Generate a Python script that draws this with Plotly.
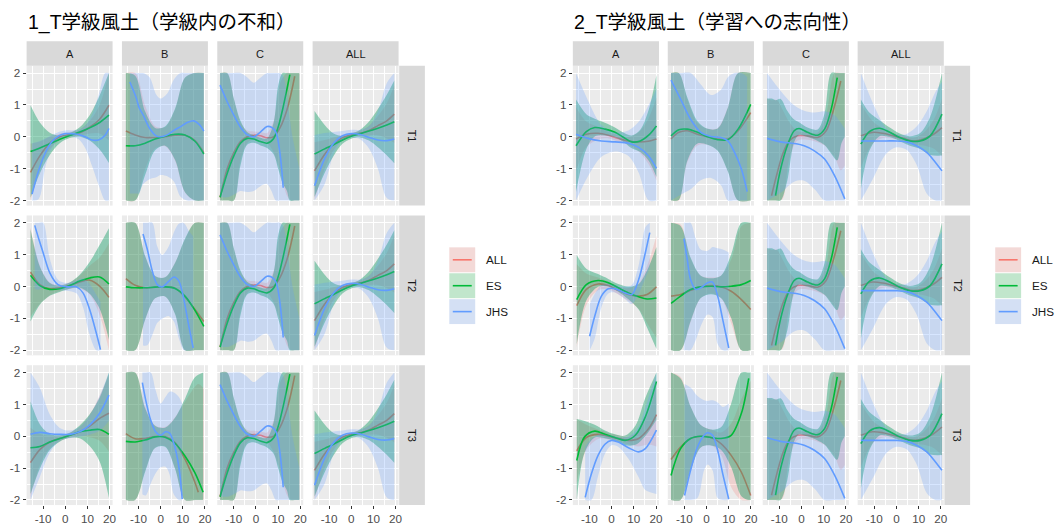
import numpy as np
import plotly.graph_objects as go

# ---------------------------------------------------------------- data
GROUPS = ["ALL", "ES", "JHS"]
COLS = ["A", "B", "C", "ALL"]
ROWS = ["T1", "T2", "T3"]
TITLES = ["1_T学級風土（学級内の不和）", "2_T学級風土（学習への志向性）"]
X_TICKS = [-10, 0, 10, 20]
X_TICK_TEXT = ["-10", "0", "10", "20"]
X_MINOR = [-15, -5, 5, 15]
Y_TICKS = [-2, -1, 0, 1, 2]
Y_TICK_TEXT = ["-2", "-1", "0", "1", "2"]
Y_MINOR = [-1.5, -0.5, 0.5, 1.5]
Y_LIMIT = 2.0

# each group: (x, fitted value, half width of the confidence band)
# --- 1_T 学級内の不和
P1_A_T1 = {
    "ALL": ([-15.7, -11.5, -7, -2.5, 2, 6.5, 11, 15.5, 19.7],
            [-1.12, -0.6, -0.2, 0.0, 0.07, 0.13, 0.3, 0.55, 0.99],
            [0.9, 0.45, 0.2, 0.1, 0.08, 0.1, 0.2, 0.45, 1.1]),
    "ES": ([-15.7, -11.5, -7, -2.5, 2, 6.5, 11, 15.5, 19.7],
           [-0.46, -0.35, -0.22, -0.08, 0.04, 0.15, 0.28, 0.45, 0.68],
           [1.45, 0.8, 0.35, 0.12, 0.08, 0.15, 0.4, 0.85, 1.5]),
    "JHS": ([-15, -12, -9, -6, -3, 0, 3, 6, 9, 12, 15, 18, 19.7],
            [-1.8, -1.05, -0.5, -0.15, 0.03, 0.1, 0.1, 0.07, 0.0, -0.1, -0.1, 0.05, 0.26],
            [1.6, 0.9, 0.45, 0.2, 0.12, 0.1, 0.1, 0.15, 0.35, 0.8, 1.4, 2.2, 2.6]),
}
P1_B_T1 = {
    "ALL": ([-15.7, -11.5, -7, -2.5, 2, 6.5, 11, 15.5, 19.5],
            [0.18, 0.06, -0.02, -0.02, 0.0, 0.05, 0.05, -0.12, -0.5],
            [3.2, 2.2, 1.0, 0.35, 0.3, 0.8, 1.8, 3.0, 3.8]),
    "ES": ([-15.7, -11.5, -7, -2.5, 2, 6.5, 11, 15.5, 19.5],
           [-0.28, -0.28, -0.2, -0.07, 0.02, 0.08, 0.06, -0.14, -0.54],
           [3.2, 2.2, 1.0, 0.35, 0.3, 0.8, 1.8, 3.0, 3.8]),
    "JHS": ([-13.9, -11, -9.75, -8, -5, -2, 0, 3, 6, 9, 12, 15, 17.5, 19.5],
            [1.72, 1.22, 0.92, 0.7, 0.27, 0.03, 0.0, 0.06, 0.2, 0.32, 0.45, 0.5, 0.38, 0.18],
            [3.5, 3, 2.7, 2.2, 1.6, 1.3, 1.2, 1.3, 1.6, 2.2, 2.8, 3.5, 4, 4.5]),
}
P1_A_T2 = {
    "ALL": ([-15.7, -11.5, -7, -2.5, 2, 6.5, 11, 15.5, 19.7],
            [0.45, 0.06, -0.07, -0.04, 0.03, 0.14, 0.2, 0.01, -0.34],
            [1.4, 0.6, 0.2, 0.1, 0.1, 0.2, 0.45, 0.9, 1.7]),
    "ES": ([-15.7, -11.5, -7, -2.5, 2, 6.5, 11, 15.5, 19.7],
           [0.35, 0.03, -0.09, -0.07, 0.03, 0.17, 0.27, 0.3, 0.08],
           [1.45, 0.6, 0.2, 0.1, 0.1, 0.2, 0.5, 1.0, 1.75]),
    "JHS": ([-13.8, -12, -10, -7, -3.3, 0.5, 5, 8, 11, 14, 15.9],
            [1.92, 1.5, 1.06, 0.43, 0.06, -0.01, -0.01, -0.2, -0.72, -1.46, -1.98],
            [2.0, 1.6, 1.1, 0.45, 0.15, 0.12, 0.2, 0.45, 0.8, 1.2, 1.5]),
}
P1_B_T2 = {
    "ALL": ([-15.7, -11.5, -7, -2.5, 2, 6.5, 11, 15.5, 19.5],
            [0.25, 0.04, -0.04, -0.02, -0.01, -0.05, -0.33, -0.72, -1.1],
            [3.2, 2.2, 1.0, 0.35, 0.3, 0.8, 1.8, 3.0, 3.8]),
    "ES": ([-15.7, -11.5, -7, -2.5, 2, 6.5, 11, 15.5, 19.5],
           [-0.01, -0.04, -0.04, -0.02, -0.01, -0.06, -0.3, -0.75, -1.25],
           [3.2, 2.2, 1.0, 0.35, 0.3, 0.8, 1.8, 3.0, 3.8]),
    "JHS": ([-7.95, -6, -3.75, -1.5, 0.75, 3.75, 6, 8.25, 10.5, 12.75, 14.7],
            [1.65, 1.16, 0.48, 0.06, -0.01, 0.17, 0.3, 0.17, -0.41, -1.25, -1.93],
            [3.5, 3, 2, 1.2, 1.0, 1.1, 1.4, 1.8, 2.4, 3, 3.5]),
}
P1_A_T3 = {
    "ALL": ([-15.7, -11.5, -7, -2.5, 2, 6.5, 11, 15.5, 19.7],
            [-0.83, -0.42, -0.18, -0.07, 0.03, 0.14, 0.32, 0.56, 0.72],
            [1.1, 0.5, 0.2, 0.08, 0.08, 0.15, 0.35, 0.7, 1.2]),
    "ES": ([-15.7, -11.5, -7, -2.5, 2, 6.5, 11, 15.5, 19.7],
           [-0.36, -0.32, -0.18, -0.07, 0.03, 0.14, 0.19, 0.21, 0.06],
           [1.45, 0.7, 0.25, 0.1, 0.08, 0.2, 0.5, 1.0, 2.0]),
    "JHS": ([-15.7, -11.5, -7, -2.5, 2, 6.5, 11, 15.5, 19.7],
            [0.06, 0.12, 0.08, 0.06, 0.06, 0.14, 0.35, 0.72, 1.29],
            [2.3, 1.4, 0.6, 0.2, 0.12, 0.15, 0.3, 0.55, 0.8]),
}
P1_B_T3 = {
    "ALL": ([-15.7, -11.5, -7, -2.5, 2, 6.5, 11, 15.5, 17, 19.5],
            [0.08, -0.08, -0.07, -0.01, -0.01, -0.2, -0.72, -1.45, -1.76, -2.3],
            [3.2, 2.2, 1.0, 0.35, 0.3, 0.8, 1.8, 3.0, 3.4, 3.8]),
    "ES": ([-15.7, -11.5, -7, -2.5, 2, 6.5, 11, 15.5, 19.2],
           [-0.16, -0.18, -0.12, -0.02, -0.03, -0.22, -0.62, -1.15, -1.76],
           [3.2, 2.2, 1.0, 0.35, 0.3, 0.8, 1.8, 3.0, 3.8]),
    "JHS": ([-8.25, -6.75, -4.5, -2.25, 0, 2.25, 4.05, 6, 8.25, 9.75],
            [1.68, 1.14, 0.51, 0.14, 0.03, 0.14, 0.1, -0.23, -0.97, -1.97],
            [3.5, 3, 2, 1.3, 1.0, 1.1, 1.3, 1.6, 2.2, 3]),
}
P1_C = {
    "ALL": ([-16.2, -13, -10, -7, -4, -1, 2, 5, 8, 11, 14, 16, 17.5, 19.6],
            [-1.9, -1.0, -0.5, -0.15, 0.0, 0.05, 0.03, -0.03, 0.0, 0.3, 0.85, 1.4, 1.9, 2.7],
            [4.0, 3.0, 1.7, 0.6, 0.2, 0.12, 0.12, 0.15, 0.5, 1.4, 2.7, 3.5, 4.2, 5.0]),
    "ES": ([-16.2, -13, -10, -7, -4, -1, 2, 5, 8, 10, 12, 14, 15.3, 17.5, 19.6],
           [-1.9, -1.15, -0.6, -0.2, -0.05, -0.07, -0.15, -0.2, -0.05, 0.3, 0.85, 1.5, 1.95, 3.0, 4.3],
           [4.2, 3.2, 1.8, 0.7, 0.2, 0.12, 0.12, 0.15, 0.5, 1.3, 2.3, 3.2, 4.0, 5.2, 6.5]),
    "JHS": ([-16.2, -13, -10, -7, -4, -1, 2, 5, 7, 9, 10.8, 12.3, 14.5, 16.5, 19.6],
            [1.62, 1.1, 0.68, 0.3, 0.07, 0.0, 0.15, 0.32, 0.3, 0.15, -0.5, -1.6, -3.5, -5.5, -8.5],
            [3.5, 3, 2.5, 2, 1.8, 1.7, 1.7, 1.8, 2, 2.4, 3, 3.5, 4.5, 5.5, 7.5]),
}
P1_ALL = {
    "ALL": ([-16.6, -12, -8, -4, 0, 4, 8, 12, 16, 19.4],
            [-1.07, -0.55, -0.22, -0.03, 0.06, 0.11, 0.2, 0.35, 0.5, 0.71],
            [0.9, 0.45, 0.2, 0.08, 0.06, 0.08, 0.15, 0.3, 0.55, 0.9]),
    "ES": ([-16.6, -12, -8, -4, 0, 4, 8, 12, 16, 19.4],
           [-0.54, -0.38, -0.25, -0.1, 0.02, 0.1, 0.18, 0.27, 0.37, 0.47],
           [1.35, 0.75, 0.35, 0.12, 0.08, 0.12, 0.3, 0.6, 0.95, 1.3]),
    "JHS": ([-16.6, -12, -8, -4, 0, 4, 8, 12, 16, 19.4],
            [-1.54, -0.68, -0.2, 0.03, 0.1, 0.07, -0.02, -0.1, -0.12, -0.07],
            [1.6, 0.8, 0.35, 0.15, 0.12, 0.15, 0.35, 0.9, 1.8, 2.6]),
}

# --- 2_T 学習への志向性
P2_A_T1 = {
    "ALL": ([-16, -11.4, -6.1, -1.5, 3, 7.6, 12.2, 16.5, 20.2],
            [-0.07, 0.08, 0.11, 0.05, -0.05, -0.13, -0.16, -0.14, -0.07],
            [1.0, 0.4, 0.2, 0.1, 0.1, 0.12, 0.3, 0.7, 1.3]),
    "ES": ([-16, -11.4, -7.6, -3, 1.5, 6.1, 9.1, 12.9, 16.7, 20.2],
           [-0.28, 0.16, 0.29, 0.24, 0.14, -0.05, -0.16, -0.13, 0.05, 0.34],
           [1.45, 0.55, 0.28, 0.2, 0.15, 0.15, 0.2, 0.35, 0.8, 1.6]),
    "JHS": ([-16, -10.7, -4.6, 1.5, 7.6, 12.2, 16.7, 20.2],
            [0.08, -0.05, -0.13, -0.16, -0.2, -0.33, -0.6, -0.99],
            [2.5, 1.2, 0.5, 0.3, 0.4, 0.8, 1.6, 2.5]),
}
P2_B_T1 = {
    "ALL": ([-16, -12.5, -8.7, -4.1, 0.5, 5, 9.6, 14.2, 19.9],
            [-0.07, 0.14, 0.19, 0.08, 0.0, -0.07, -0.07, 0.19, 0.76],
            [3.4, 2.2, 1.0, 0.35, 0.25, 0.35, 1.0, 2.3, 3.6]),
    "ES": ([-16, -12.5, -8.7, -4.1, 0.5, 5, 9.6, 14.2, 19.9],
           [0.03, 0.22, 0.24, 0.14, 0.0, -0.09, -0.09, 0.24, 1.02],
           [3.4, 2.2, 1.0, 0.35, 0.25, 0.35, 1.0, 2.3, 3.6]),
    "JHS": ([-16, -11.7, -7.2, -2.6, 2, 6.5, 9.6, 12.6, 15.7, 18.3],
            [1.78, 1.18, 0.55, 0.14, 0.01, -0.02, -0.13, -0.49, -1.01, -1.72],
            [4, 3, 2.2, 1.5, 1.3, 1.5, 2, 2.6, 3.2, 3.6]),
}
P2_A_T2 = {
    "ALL": ([-15.7, -11.4, -6.1, -1.5, 3, 7.6, 12.2, 16, 20.2],
            [-0.6, -0.09, 0.08, 0.03, -0.12, -0.25, -0.3, -0.25, -0.01],
            [1.3, 0.5, 0.2, 0.12, 0.12, 0.2, 0.4, 0.9, 1.6]),
    "ES": ([-15.7, -11.4, -6.1, -1.5, 3, 7.6, 12.2, 16, 20.2],
           [-0.41, 0.06, 0.19, 0.12, -0.04, -0.2, -0.32, -0.39, -0.36],
           [1.4, 0.5, 0.2, 0.12, 0.12, 0.2, 0.4, 0.9, 1.6]),
    "JHS": ([-9.9, -7.6, -4.6, -1.5, 1.5, 6.1, 9.1, 12.2, 15.2, 17.2],
            [-1.56, -0.93, -0.3, -0.07, -0.07, -0.2, -0.25, 0.22, 1.06, 1.69],
            [1.0, 0.7, 0.35, 0.15, 0.12, 0.2, 0.3, 0.45, 0.8, 1.1]),
}
P2_B_T2 = {
    "ALL": ([-16, -11.7, -7.2, -2.6, 2, 6.5, 11.1, 15.7, 19.9],
            [-0.3, -0.25, -0.12, -0.01, 0.03, -0.01, -0.15, -0.41, -0.72],
            [3.4, 2.2, 1.0, 0.35, 0.25, 0.35, 1.0, 2.3, 3.6]),
    "ES": ([-16, -11.7, -7.2, -2.6, 2, 6.5, 11.1, 15.7, 19.9],
           [-0.53, -0.3, -0.09, -0.01, 0.01, -0.01, 0.01, 0.06, 0.19],
           [3.4, 2.2, 1.0, 0.35, 0.25, 0.35, 1.0, 2.3, 3.6]),
    "JHS": ([-10.2, -8.7, -7.2, -4.9, -2.6, 0.5, 2.7, 5, 7.3, 10],
            [1.5, 0.85, 0.22, -0.09, -0.04, 0.12, 0.14, -0.3, -1.04, -1.93],
            [3.5, 3, 2.4, 1.6, 1.2, 1.0, 1.1, 1.5, 2.2, 3]),
}
P2_A_T3 = {
    "ALL": ([-15.7, -11.4, -6.1, -1.5, 3, 7.6, 12.2, 16.7, 20.2],
            [-0.46, -0.04, 0.06, 0.0, -0.07, -0.13, -0.07, 0.24, 0.68],
            [1.0, 0.4, 0.15, 0.1, 0.1, 0.12, 0.25, 0.5, 1.0]),
    "ES": ([-15.7, -12.2, -7.6, -3, 1.5, 6.1, 10.7, 15.2, 20.2],
           [-0.76, -0.02, 0.16, 0.06, -0.04, -0.13, 0.03, 0.61, 1.72],
           [1.3, 0.5, 0.2, 0.12, 0.1, 0.15, 0.3, 0.6, 1.2]),
    "JHS": ([-11.9, -9.1, -6.1, -3, 0, 3, 7.6, 12.2, 15.2, 20.2],
            [-1.92, -1.18, -0.6, -0.25, -0.13, -0.18, -0.36, -0.49, -0.39, 0.19],
            [1.6, 1.1, 0.65, 0.3, 0.15, 0.15, 0.35, 0.8, 1.3, 2.0]),
}
P2_B_T3 = {
    "ALL": ([-16, -11.7, -7.2, -2.6, 2, 6.5, 11.1, 15.7, 19.9],
            [-0.73, -0.34, -0.07, 0.0, -0.04, -0.23, -0.6, -1.13, -1.86],
            [3.4, 2.2, 1.0, 0.35, 0.25, 0.35, 1.0, 2.3, 3.6]),
    "ES": ([-16, -11.7, -7.2, -2.6, 2, 6.5, 11.1, 15.7, 19, 19.9],
           [-1.23, -0.39, -0.07, 0.0, -0.04, -0.07, 0.03, 0.72, 1.82, 2.3],
           [3.4, 2.2, 1.0, 0.35, 0.25, 0.35, 1.0, 2.6, 4.2, 4.6]),
    "JHS": ([-9.9, -7.2, -4.1, -1.1, 0.5, 2.7, 5, 7.3, 10],
            [-1.86, -1.07, -0.34, 0.03, 0.11, 0.03, -0.44, -1.18, -1.97],
            [3.5, 2.6, 1.6, 1.1, 1.0, 1.1, 1.5, 2.1, 3]),
}
P2_C = {
    "ALL": ([-15.5, -13.5, -11, -8.5, -5.6, -1.8, 2.7, 7.3, 11.1, 14.9, 17.7, 19.5],
            [-3.0, -1.85, -1.15, -0.55, -0.13, 0.03, 0.03, -0.02, 0.19, 0.97, 1.75, 2.6],
            [4.2, 3, 2.3, 1.4, 0.6, 0.15, 0.12, 0.15, 0.5, 1.6, 2.8, 3.5]),
    "ES": ([-15.5, -13.5, -11.7, -9.4, -6.4, -3.3, -1.1, 2.7, 7.3, 10.4, 13.4, 16.1, 18, 19.5],
           [-4.5, -3.0, -1.85, -1.01, -0.28, 0.19, 0.26, 0.14, 0.05, 0.24, 0.87, 1.86, 3.3, 4.6],
           [5.7, 4.2, 3, 2.2, 1.1, 0.35, 0.2, 0.15, 0.18, 0.5, 1.4, 2.6, 3.5, 4.6]),
    "JHS": ([-15.5, -9.4, -3.3, 1.2, 5.8, 10.4, 14.9, 19.5],
            [-0.05, -0.16, -0.21, -0.28, -0.44, -0.7, -1.22, -1.95],
            [2.5, 1.6, 1.2, 1.1, 1.2, 1.5, 1.9, 2.2]),
}
P2_ALL = {
    "ALL": ([-16, -10.7, -6.1, -1.5, 3, 7.6, 12.2, 16.7, 20.5],
            [0.03, 0.14, 0.11, 0.03, -0.05, -0.13, -0.07, 0.08, 0.29],
            [1.0, 0.35, 0.15, 0.08, 0.08, 0.1, 0.2, 0.45, 0.9]),
    "ES": ([-16, -12.2, -7.6, -3, 1.5, 6.1, 10.7, 15.2, 20.5],
           [-0.23, 0.16, 0.27, 0.14, -0.02, -0.13, -0.13, 0.03, 0.71],
           [1.4, 0.6, 0.25, 0.15, 0.12, 0.15, 0.25, 0.6, 1.3]),
    "JHS": ([-16, -10.7, -4.6, 0, 4.6, 9.1, 13.7, 17.5, 20.5],
            [-0.13, -0.13, -0.13, -0.13, -0.16, -0.28, -0.49, -0.8, -1.07],
            [2.5, 1.2, 0.4, 0.2, 0.25, 0.6, 1.3, 2.2, 2.8]),
}

PANELS = [
    {("T1", "A"): P1_A_T1, ("T1", "B"): P1_B_T1, ("T2", "A"): P1_A_T2,
     ("T2", "B"): P1_B_T2, ("T3", "A"): P1_A_T3, ("T3", "B"): P1_B_T3,
     **{(r, "C"): P1_C for r in ROWS}, **{(r, "ALL"): P1_ALL for r in ROWS}},
    {("T1", "A"): P2_A_T1, ("T1", "B"): P2_B_T1, ("T2", "A"): P2_A_T2,
     ("T2", "B"): P2_B_T2, ("T3", "A"): P2_A_T3, ("T3", "B"): P2_B_T3,
     **{(r, "C"): P2_C for r in ROWS}, **{(r, "ALL"): P2_ALL for r in ROWS}},
]

# ---------------------------------------------------------------- style
LINE_COLORS = {"ALL": "#F8766D", "ES": "#00BA38", "JHS": "#619CFF"}
FILL_COLORS = {"ALL": "rgba(248,118,109,0.22)",
               "ES": "rgba(0,150,90,0.40)",
               "JHS": "rgba(97,156,255,0.25)"}
KEY_FILLS = {"ALL": "rgba(248,118,109,0.2)",
             "ES": "rgba(0,186,56,0.2)",
             "JHS": "rgba(97,156,255,0.2)"}
PANEL_BG = "#EBEBEB"
STRIP_BG = "#D9D9D9"
AXIS_TEXT = "#4D4D4D"
STRIP_TEXT = "#1A1A1A"
LATIN = "Liberation Sans, Arial, Noto Sans CJK JP, sans-serif"

W, H = 1059, 525
X_RANGE = [-17.47, 21.35]
Y_RANGE = [-2.16, 2.23]

# panel geometry in pixels
PANEL_W = [86.3, 86.5]
PANEL_H = 140.4
COL_X0 = [[26.7, 122.4, 218.1, 313.8], [575.0, 670.3, 765.6, 860.9]]
ROW_Y0 = [66.0, 216.3, 366.6]
STRIP_TOP = 41.5
RSTRIP_W = 25.8
LEGEND_KEY_X = [451.0, 999.0]
LEGEND_KEY_Y = [248.3, 274.3, 300.3]
KEY_W, KEY_H = 26.0, 25.0


def fx(px):
    return px / W


def fy(py):
    return 1 - py / H


fig = go.Figure()
layout = {}
shapes = []
annotations = []

for c in range(2):
    for r, row in enumerate(ROWS):
        for j, col in enumerate(COLS):
            k = c * 12 + r * 4 + j + 1
            xa = "x" if k == 1 else f"x{k}"
            ya = "y" if k == 1 else f"y{k}"
            x0 = COL_X0[c][j]
            x1 = x0 + PANEL_W[c]
            y0 = ROW_Y0[r]
            y1 = y0 + PANEL_H
            bottom = r == len(ROWS) - 1
            left = j == 0
            layout[f"xaxis{'' if k == 1 else k}"] = dict(
                domain=[fx(x0), fx(x1)], anchor=ya, range=X_RANGE,
                tickmode="array", tickvals=X_TICKS, ticktext=X_TICK_TEXT,
                showticklabels=bottom, ticks="outside" if bottom else "",
                ticklen=3, tickwidth=1.1, tickcolor="#333333",
                tickfont=dict(family=LATIN, size=11.7, color=AXIS_TEXT),
                showgrid=True, gridcolor="white", gridwidth=1.1,
                minor=dict(tickvals=X_MINOR, showgrid=True,
                           gridcolor="white", gridwidth=0.55),
                zeroline=False, showline=False, fixedrange=True,
            )
            layout[f"yaxis{'' if k == 1 else k}"] = dict(
                domain=[fy(y1), fy(y0)], anchor=xa, range=Y_RANGE,
                tickmode="array", tickvals=Y_TICKS, ticktext=Y_TICK_TEXT,
                showticklabels=left, ticks="outside" if left else "",
                ticklen=3, tickwidth=1.1, tickcolor="#333333",
                tickfont=dict(family=LATIN, size=11.7, color=AXIS_TEXT),
                showgrid=True, gridcolor="white", gridwidth=1.1,
                minor=dict(tickvals=Y_MINOR, showgrid=True,
                           gridcolor="white", gridwidth=0.55),
                zeroline=False, showline=False, fixedrange=True,
            )

            panel = PANELS[c][(row, col)]
            for g in GROUPS:
                xs, ys, hw = (np.asarray(v, dtype=float) for v in panel[g])
                hi = np.clip(ys + hw, -Y_LIMIT, Y_LIMIT)
                lo = np.clip(ys - hw, -Y_LIMIT, Y_LIMIT)
                # confidence band: lower edge, then upper edge filled down to it
                fig.add_trace(go.Scatter(
                    x=xs, y=lo, mode="lines",
                    line=dict(width=0, shape="spline", smoothing=0.9),
                    hoverinfo="skip", showlegend=False, xaxis=xa, yaxis=ya,
                ))
                fig.add_trace(go.Scatter(
                    x=xs, y=hi, mode="lines", fill="tonexty",
                    fillcolor=FILL_COLORS[g],
                    line=dict(width=0, shape="spline", smoothing=0.9),
                    hoverinfo="skip", showlegend=False, xaxis=xa, yaxis=ya,
                ))
                keep = np.abs(ys) <= Y_LIMIT
                fig.add_trace(go.Scatter(
                    x=xs[keep], y=ys[keep], mode="lines",
                    line=dict(color=LINE_COLORS[g], width=1.6,
                              shape="spline", smoothing=0.9),
                    hoverinfo="skip", showlegend=False,
                    xaxis=xa, yaxis=ya,
                ))

            # facet strip on top (first row only)
            if r == 0:
                shapes.append(dict(type="rect", xref="paper", yref="paper",
                                   x0=fx(x0), x1=fx(x1), y0=fy(y0), y1=fy(STRIP_TOP),
                                   fillcolor=STRIP_BG, line=dict(width=0), layer="below"))
                annotations.append(dict(xref="paper", yref="paper",
                                        x=fx((x0 + x1) / 2), y=fy((STRIP_TOP + y0) / 2),
                                        text=col, showarrow=False,
                                        font=dict(family=LATIN, size=11, color=STRIP_TEXT),
                                        xanchor="center", yanchor="middle"))
            # facet strip on the right (last column only)
            if j == len(COLS) - 1:
                shapes.append(dict(type="rect", xref="paper", yref="paper",
                                   x0=fx(x1 + 0.6), x1=fx(x1 + 0.6 + RSTRIP_W),
                                   y0=fy(y1), y1=fy(y0),
                                   fillcolor=STRIP_BG, line=dict(width=0), layer="below"))
                annotations.append(dict(xref="paper", yref="paper",
                                        x=fx(x1 + 0.6 + RSTRIP_W / 2), y=fy((y0 + y1) / 2),
                                        text=row, showarrow=False, textangle=90,
                                        font=dict(family=LATIN, size=11, color=STRIP_TEXT),
                                        xanchor="center", yanchor="middle"))

    # chart title, aligned to the panel area
    annotations.append(dict(xref="paper", yref="paper",
                            x=fx(COL_X0[c][0] - 1), y=fy(23),
                            text=TITLES[c], showarrow=False,
                            font=dict(family=LATIN, size=19.5, color="black"),
                            xanchor="left", yanchor="middle"))

    # legend: filled key with a line through it
    kx = LEGEND_KEY_X[c]
    for g, ky in zip(GROUPS, LEGEND_KEY_Y):
        shapes.append(dict(type="rect", xref="paper", yref="paper",
                           x0=fx(kx), x1=fx(kx + KEY_W), y0=fy(ky + KEY_H), y1=fy(ky),
                           fillcolor="#F2F2F2", line=dict(width=0)))
        shapes.append(dict(type="rect", xref="paper", yref="paper",
                           x0=fx(kx), x1=fx(kx + KEY_W), y0=fy(ky + KEY_H), y1=fy(ky),
                           fillcolor=KEY_FILLS[g], line=dict(width=0)))
        shapes.append(dict(type="line", xref="paper", yref="paper",
                           x0=fx(kx + 3.5), x1=fx(kx + KEY_W - 3.5),
                           y0=fy(ky + KEY_H / 2), y1=fy(ky + KEY_H / 2),
                           line=dict(color=LINE_COLORS[g], width=1.6)))
        annotations.append(dict(xref="paper", yref="paper",
                                x=fx(kx + KEY_W + 9), y=fy(ky + KEY_H / 2),
                                text=g, showarrow=False,
                                font=dict(family=LATIN, size=11.7, color=STRIP_TEXT),
                                xanchor="left", yanchor="middle"))

fig.update_layout(
    width=W, height=H,
    margin=dict(l=0, r=0, t=0, b=0),
    paper_bgcolor="white", plot_bgcolor=PANEL_BG,
    showlegend=False,
    shapes=shapes, annotations=annotations,
    **layout,
)

fig.write_html("out.html")
